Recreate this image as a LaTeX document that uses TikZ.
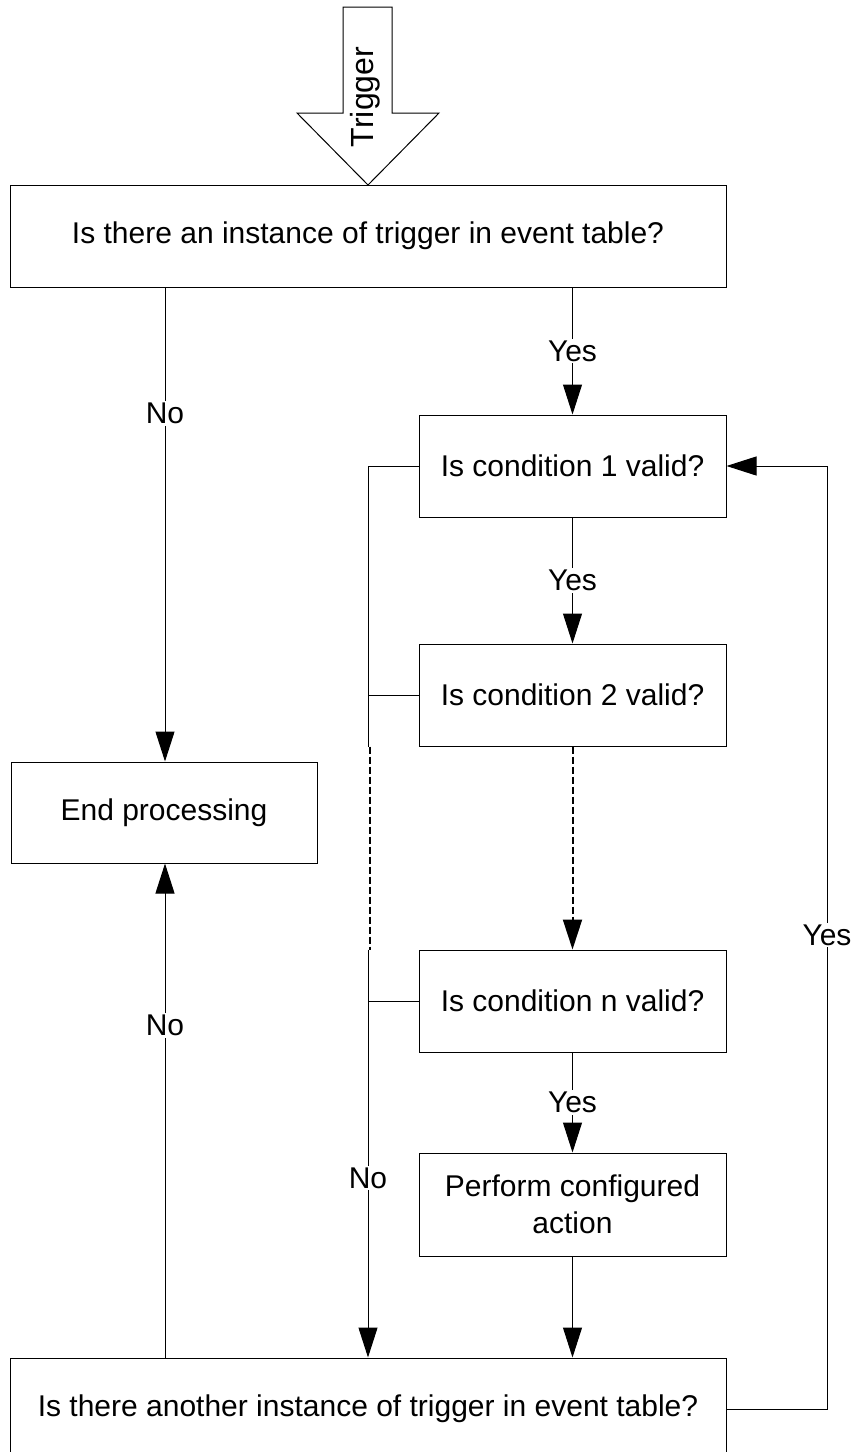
\documentclass[tikz,border=0pt]{standalone}
\usepackage{fontspec}
\setmainfont{Liberation Sans}
\usetikzlibrary{arrows.meta}
\begin{document}
\begin{tikzpicture}[x=1pt,y=-1pt,
  line width=1pt,
  every node/.style={font=\fontsize{30}{37}\selectfont},
  box/.style={draw, inner sep=0pt, align=center},
  wide/.style={box, minimum width=716pt, minimum height=102pt},
  cell/.style={box, minimum width=307pt, minimum height=102pt},
  lbl/.style={fill=white, inner sep=2pt},
  tip/.style={-{Triangle[length=30pt,width=19pt]}},
  dotline/.style={line width=2pt, dash pattern=on 7pt off 3pt},
  ]
\useasboundingbox (0,0) rectangle (854,1452);

% incoming trigger arrow
\draw (343,7) -- (392,7) -- (392,113) -- (439,113) -- (368,185)
      -- (297,113) -- (343,113) -- cycle;
\node[rotate=90, font=\fontsize{32}{38}\selectfont] (trig) at (365,97) {Trigger};

% boxes
\node[wide] (top)  at (368,236)    {Is there an instance of trigger in event table?};
\node[box, minimum width=306pt, minimum height=101pt] (end) at (164,812.5) {End processing};
\node[cell] (c1)   at (572.5,466)  {Is condition 1 valid?};
\node[cell] (c2)   at (572.5,695)  {Is condition 2 valid?};
\node[cell] (cn)   at (572.5,1001) {Is condition n valid?};
\node[cell, minimum height=103pt] (act) at (572.5,1204.5) {Perform configured\\action};
\node[wide] (bot)  at (368,1409)   {Is there another instance of trigger in event table?};

% helper x positions
\coordinate (lx) at (165,0);
\coordinate (bx) at (368,0);
\coordinate (rx) at (827,0);

% first decision
\draw[tip] (top.south -| lx) -- node[lbl, pos=0.265] {No} (end.north -| lx);
\draw[tip] (top.south -| c1) -- node[lbl] {Yes} (c1.north);

% condition chain
\draw[tip] (c1.south) -- node[lbl] {Yes} (c2.north);
\draw[tip, dotline] (c2.south) -- (cn.north);
\draw[tip] (cn.south) -- node[lbl] {Yes} (act.north);
\draw[tip] (act.south) -- (bot.north -| act);

% "No" bus on the left of the conditions
\draw (c1.west) -- (c1.west -| bx) -- (c2.south -| bx);
\draw (c2.west) -- (c2.west -| bx);
\draw[dotline] ([xshift=1.5pt]c2.south -| bx) -- ([xshift=1.5pt]cn.north -| bx);
\draw (cn.west) -- (cn.west -| bx);
\draw[tip] (cn.north -| bx) -- node[lbl, pos=0.56] {No} (bot.north -| bx);

% back to end processing
\draw[tip] (bot.north -| lx) -- node[lbl, pos=0.673] {No} (end.south -| lx);

% loop back to condition 1
\coordinate (lp) at (rx |- bot.east);
\draw[tip] (bot.east) -- (lp) -- (rx |- c1.east) -- (c1.east);
\node[lbl] (ly) at (827,935) {Yes};
\end{tikzpicture}
\end{document}
